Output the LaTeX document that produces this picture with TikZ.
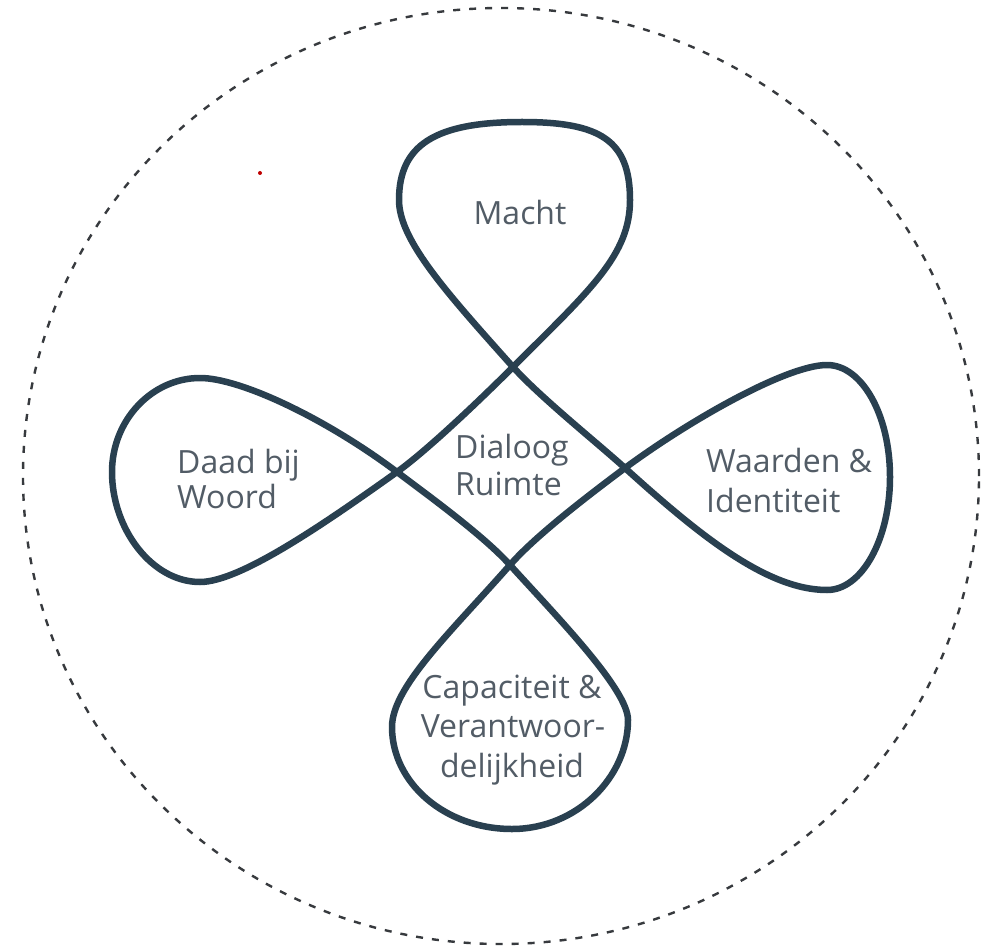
\documentclass[tikz,border=0pt]{standalone}
\usepackage{fontspec}
\setmainfont{Open Sans}
\definecolor{loopblue}{RGB}{41,64,80}
\definecolor{labelgray}{RGB}{82,92,102}
\definecolor{rimgray}{RGB}{55,58,62}
\begin{document}
\begin{tikzpicture}[x=1pt,y=-1pt,
  lbl/.style={font=\fontsize{32}{38}\selectfont, text=labelgray, inner sep=0pt},
  loopline/.style={draw=loopblue, line width=6.5pt, line join=round},
  rim/.style={draw=rimgray, line width=2.4pt, dash pattern=on 7pt off 9pt}]
\useasboundingbox (0,0) rectangle (992,949);
\fill[white] (0,0) rectangle (992,949);
\draw[rim] (501,476) ellipse [x radius=478pt, y radius=468pt];
\coordinate (T) at (513,367);
\coordinate (R) at (625,468);
\coordinate (B) at (510,565);
\coordinate (L) at (397,472);
\draw[loopline] (T) .. controls (540,397) and (595,441) .. (R)
 .. controls (699,535) and (767,590) .. (827,590)
 .. controls (862,590) and (890,539) .. (890,477)
 .. controls (890,415) and (862,365) .. (827,365)
 .. controls (787,365) and (690,420) .. (R)
 .. controls (593,492) and (536,535) .. (B)
 .. controls (451,632) and (392,687) .. (392,727)
 .. controls (392,783) and (445,829) .. (512,829)
 .. controls (577,829) and (628,777) .. (628,720)
 .. controls (628,690) and (560,620) .. (B)
 .. controls (484,536) and (429,496) .. (L)
 .. controls (325,418) and (240,378) .. (200,378)
 .. controls (152,378) and (112,420) .. (112,472)
 .. controls (112,529) and (152,582) .. (200,582)
 .. controls (240,582) and (324,524) .. (L)
 .. controls (429,449) and (485,395) .. (T)
 .. controls (591,289) and (630,255) .. (630,200)
 .. controls (630,140) and (600,122) .. (522,122)
 .. controls (435,122) and (399,145) .. (399,200)
 .. controls (399,240) and (446,292) .. cycle;
\node[lbl, anchor=base] (macht) at (520,225) {Macht};
\node[lbl, anchor=base west] (daad) at (177,473) {Daad bij};
\node[lbl, anchor=base west] (woord) at (177,508) {Woord};
\node[lbl, anchor=base west] (dialoog) at (455,458) {Dialoog};
\node[lbl, anchor=base west] (ruimte) at (455,495) {Ruimte};
\node[lbl, anchor=base west] (waarden) at (706,472) {Waarden \&};
\node[lbl, anchor=base west] (identiteit) at (706,512) {Identiteit};
\node[lbl, anchor=base] (capaciteit) at (512,698) {Capaciteit \&};
\node[lbl, anchor=base] (verantwoor) at (513,737) {Verantwoor-};
\node[lbl, anchor=base] (delijkheid) at (512,777) {delijkheid};
\fill[red!75!black] (260,173) circle [radius=2pt];
\end{tikzpicture}
\end{document}
